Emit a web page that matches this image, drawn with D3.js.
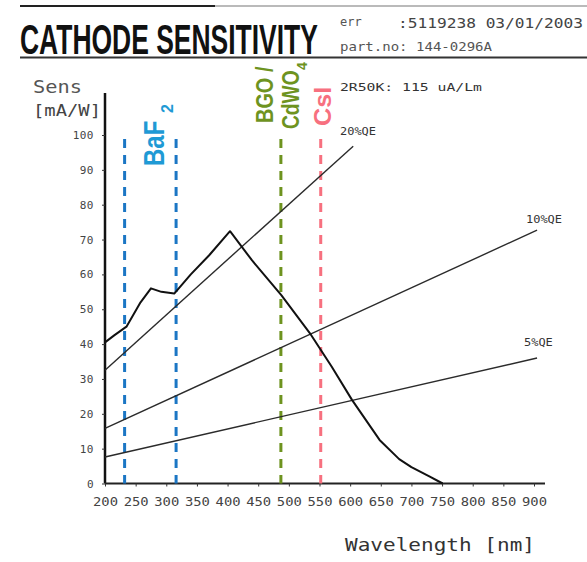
<!DOCTYPE html>
<html>
<head>
<meta charset="utf-8">
<script src="https://cdn.jsdelivr.net/npm/d3@7"></script>
<style>
  html, body { margin: 0; padding: 0; background: #fff; }
  svg { display: block; }
</style>
</head>
<body>
<svg id="chart" width="587" height="562"></svg>
<script>
// Photocathode sensitivity curve (wavelength in nm, sensitivity in mA/W)
const sensWavelength = [200, 215, 235, 258, 275, 292, 313, 340, 370, 404, 440, 488, 536, 570, 603, 648, 680, 700, 730, 751];
const sensValue      = [40.5, 42.5, 45, 52, 56, 55, 54.5, 60, 65.5, 72.4, 64, 54, 42.7, 33.5, 24, 12.5, 7, 4.7, 2, 0];

// Constant quantum-efficiency reference lines (end points)
const qeLabels   = ["20%QE", "10%QE", "5%QE"];
const qeStartWl  = [200, 200, 200];
const qeStartVal = [32.5, 15.8, 7.6];
const qeEndWl    = [605, 905, 905];
const qeEndVal   = [96.8, 72.7, 36];

// Scintillator emission markers
const scintWavelength = [232, 316, 487, 552];
const scintColor      = ["#1b76c4", "#1b76c4", "#6e931f", "#f7707f"];

// Axis ticks
const xTicks = [200, 250, 300, 350, 400, 450, 500, 550, 600, 650, 700, 750, 800, 850, 900];
const yTicks = [0, 10, 20, 30, 40, 50, 60, 70, 80, 90, 100];

const svg = d3.select("#chart");
const x = d3.scaleLinear().domain([200, 900]).range([105, 534]);
const y = d3.scaleLinear().domain([0, 100]).range([483.5, 135]);

const mono = "'DejaVu Sans Mono', 'Liberation Mono', monospace";

// ---- header ----
svg.append("line").attr("x1", 20).attr("x2", 587).attr("y1", 6).attr("y2", 6)
  .attr("stroke", "#777").attr("stroke-width", 1.2);
svg.append("line").attr("x1", 20).attr("x2", 215).attr("y1", 6).attr("y2", 6)
  .attr("stroke", "#222").attr("stroke-width", 2);
// condensed title: narrow face scaled to a fixed width and a tall cap height
const title = svg.append("text")
  .attr("font-family", "'Liberation Sans Narrow', 'Liberation Sans', Arial, sans-serif")
  .attr("font-weight", "bold").attr("font-size", 26)
  .attr("fill", "#111").text("CATHODE SENSITIVITY");
const titleW = title.node().getComputedTextLength();
title.attr("transform", `translate(20,54) scale(${298 / titleW},1.61)`);
svg.append("line").attr("x1", 20).attr("x2", 587).attr("y1", 57.5).attr("y2", 57.5)
  .attr("stroke", "#333").attr("stroke-width", 2);
svg.append("text").attr("x", 340).attr("y", 26).attr("font-family", mono)
  .attr("font-size", 12).attr("fill", "#555").text("err");
svg.append("text").attr("x", 398).attr("y", 28).attr("font-family", mono)
  .attr("font-size", 14).attr("textLength", 185).attr("lengthAdjust", "spacingAndGlyphs")
  .attr("fill", "#444").text(":5119238 03/01/2003");
svg.append("text").attr("x", 340).attr("y", 51).attr("font-family", mono)
  .attr("font-size", 12).attr("textLength", 152).attr("lengthAdjust", "spacingAndGlyphs")
  .attr("fill", "#555").text("part.no: 144-0296A");

// ---- axes ----
svg.append("line").attr("x1", x(200)).attr("x2", x(200)).attr("y1", 93).attr("y2", y(0))
  .attr("stroke", "#111").attr("stroke-width", 2.5);
svg.append("line").attr("x1", x(200)).attr("x2", 545).attr("y1", y(0)).attr("y2", y(0))
  .attr("stroke", "#222").attr("stroke-width", 2);

const yAxis = svg.append("g").attr("transform", `translate(${x(200)},0)`)
  .call(d3.axisLeft(y).tickValues(yTicks).tickSize(3).tickPadding(8));
yAxis.select(".domain").remove();
yAxis.selectAll("line").attr("stroke", "#333");
yAxis.selectAll("text").attr("font-family", mono).attr("font-size", 11)
  .attr("fill", "#444").attr("letter-spacing", 0.5);

const xAxis = svg.append("g").attr("transform", `translate(0,${y(0)})`)
  .call(d3.axisBottom(x).tickValues(xTicks).tickSize(3).tickPadding(11));
xAxis.select(".domain").remove();
xAxis.selectAll("line").attr("stroke", "#333");
xAxis.selectAll("text").attr("font-family", mono).attr("font-size", 12)
  .attr("fill", "#444").attr("textLength", 25).attr("lengthAdjust", "spacingAndGlyphs");

svg.append("text").attr("x", 33).attr("y", 93).attr("font-family", mono)
  .attr("font-size", 18).attr("textLength", 49).attr("lengthAdjust", "spacingAndGlyphs")
  .attr("fill", "#555").text("Sens");
svg.append("text").attr("x", 33).attr("y", 116).attr("font-family", mono)
  .attr("font-size", 16).attr("textLength", 68).attr("lengthAdjust", "spacingAndGlyphs")
  .attr("fill", "#444").text("[mA/W]");
svg.append("text").attr("x", 345).attr("y", 551).attr("font-family", mono)
  .attr("font-size", 17).attr("textLength", 190).attr("lengthAdjust", "spacingAndGlyphs")
  .attr("fill", "#333").text("Wavelength [nm]");

// ---- scintillator markers ----
svg.append("g").selectAll("line").data(scintWavelength).join("line")
  .attr("x1", d => x(d)).attr("x2", d => x(d))
  .attr("y1", 139).attr("y2", y(0))
  .attr("stroke", (d, i) => scintColor[i]).attr("stroke-width", 3)
  .attr("stroke-dasharray", "9 7");

// vertical bold label; glyphs narrowed along the baseline by a scale
const bold = "'Liberation Sans', Arial, sans-serif";
function vtext(px, py, str, size, squeeze, color) {
  svg.append("text")
    .attr("transform", `translate(${px},${py}) rotate(-90) scale(${squeeze},1)`)
    .attr("font-family", bold).attr("font-weight", "bold").attr("font-size", size)
    .attr("fill", color).text(str);
}
vtext(164, 166, "BaF", 29, 0.83, "#1f9ad5");
vtext(173, 113, "2", 16, 1, "#1f9ad5");
vtext(273, 123, "BGO /", 24, 0.83, "#6e931f");
vtext(299, 129, "CdWO", 24, 0.8, "#6e931f");
vtext(307, 70, "4", 14, 1, "#6e931f");
vtext(331, 126, "CsI", 23, 1.1, "#f7707f");

// ---- QE reference lines ----
const qeGroup = svg.append("g");
qeLabels.forEach((lab, i) => {
  qeGroup.append("line")
    .attr("x1", x(qeStartWl[i])).attr("y1", y(qeStartVal[i]))
    .attr("x2", x(qeEndWl[i])).attr("y2", y(qeEndVal[i]))
    .attr("stroke", "#2b2b2b").attr("stroke-width", 1.4);
});
const qeLabelPos = [[340, 135], [526, 223], [524, 346]];
qeLabels.forEach((lab, i) => {
  svg.append("text").attr("x", qeLabelPos[i][0]).attr("y", qeLabelPos[i][1])
    .attr("font-family", mono).attr("font-size", 11)
    .attr("textLength", lab.length * 7.2).attr("lengthAdjust", "spacingAndGlyphs")
    .attr("fill", "#333").text(lab);
});
svg.append("text").attr("x", 340).attr("y", 91).attr("font-family", mono)
  .attr("font-size", 11).attr("textLength", 142).attr("lengthAdjust", "spacingAndGlyphs")
  .attr("fill", "#333").text("2R50K: 115 uA/Lm");

// ---- sensitivity curve ----
const line = d3.line().x(d => x(d[0])).y(d => y(d[1]));
svg.append("path")
  .datum(sensWavelength.map((w, i) => [w, sensValue[i]]))
  .attr("d", line).attr("fill", "none")
  .attr("stroke", "#111").attr("stroke-width", 2).attr("stroke-linejoin", "round");
</script>
</body>
</html>
